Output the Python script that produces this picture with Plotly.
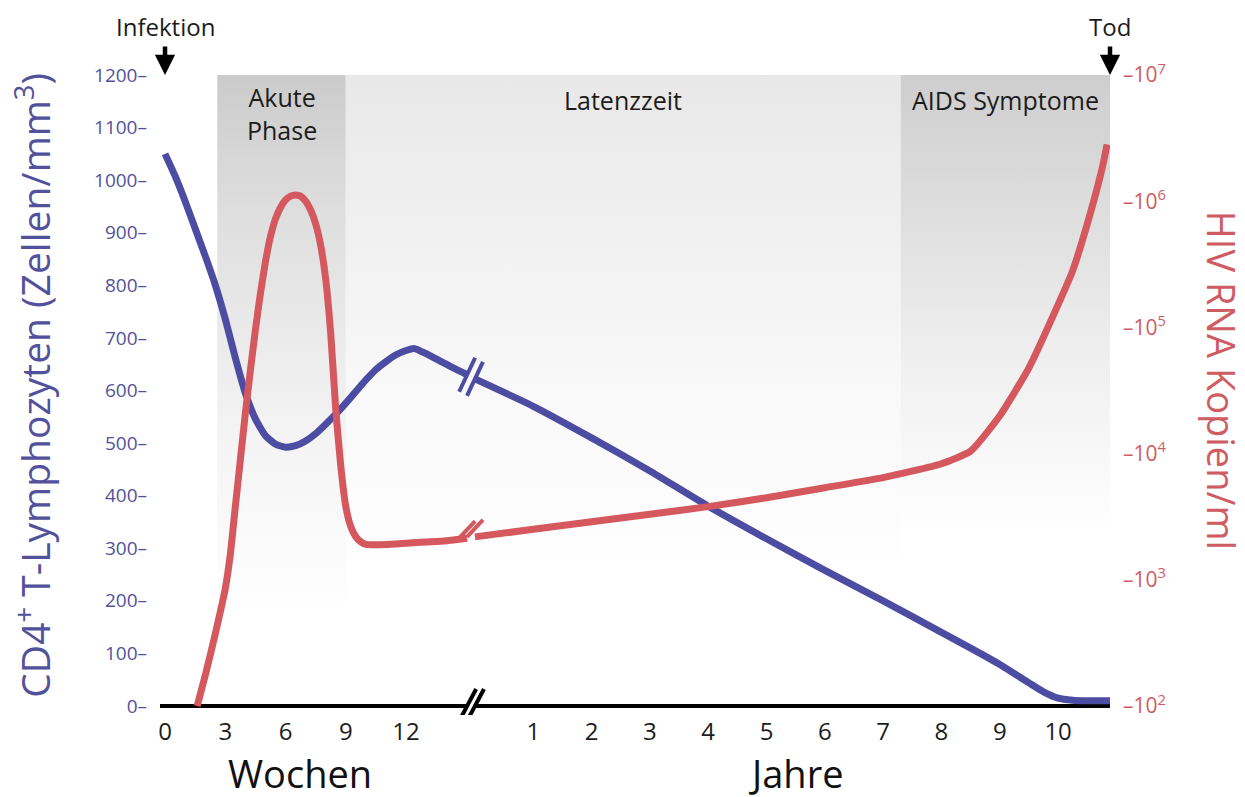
import plotly.graph_objects as go

# ---------------- data ----------------
# CD4+ T-lymphocytes (cells/mm3), weeks segment
cd4_weeks = [0, 0.5, 1, 1.5, 2, 2.5, 3, 3.5, 4, 4.5, 5, 5.5, 6, 6.5, 7, 7.5, 8, 8.5, 9,
             9.5, 10, 10.5, 11, 11.5, 12, 12.4, 13, 13.5, 14, 14.5, 15.04]
cd4_week_vals = [1050, 1008, 960, 908, 856, 801, 736, 662, 595, 546, 514, 498, 492, 495, 504,
                 518, 536, 555, 576, 598, 620, 640, 655, 668, 676, 680, 670, 660, 650, 640, 630]
# CD4+ years segment
cd4_years = [0, 1, 2, 3, 4, 5, 6, 7, 8, 8.5, 9, 9.5, 9.75, 10, 10.25, 10.5, 10.89]
cd4_year_vals = [622, 570, 510, 447, 380, 318, 258, 200, 140, 110, 79, 44, 27, 15, 11, 10, 10]

# HIV RNA copies/ml (log10), weeks segment
rna_weeks = [1.6, 2.0, 2.5, 3.0, 3.25, 3.5, 3.75, 4.0, 4.25, 4.5, 4.75, 5.0, 5.25, 5.5, 5.75,
             6.0, 6.25, 6.5, 6.75, 7.0, 7.25, 7.5, 7.75, 8.0, 8.25, 8.5, 8.75, 9.0, 9.25,
             9.5, 9.75, 10, 11, 12, 13, 14, 15.04]
rna_week_log = [2.00, 2.24, 2.57, 2.93, 3.20, 3.58, 3.95, 4.32, 4.66, 4.98, 5.27, 5.52, 5.72,
                5.86, 5.95, 6.01, 6.04, 6.05, 6.04, 6.00, 5.93, 5.82, 5.65, 5.38, 4.95, 4.35,
                3.90, 3.58, 3.42, 3.34, 3.30, 3.28, 3.28, 3.29, 3.30, 3.31, 3.33]
# HIV RNA years segment
rna_years = [0, 1, 2, 3, 4, 5, 6, 7, 8, 8.5, 9, 9.5, 10, 10.25, 10.5, 10.75, 10.84]
rna_year_log = [3.34, 3.40, 3.46, 3.52, 3.58, 3.65, 3.73, 3.81, 3.92, 4.02, 4.30, 4.68, 5.18,
                5.45, 5.82, 6.25, 6.45]

week_ticks = [0, 3, 6, 9, 12]
year_ticks = [1, 2, 3, 4, 5, 6, 7, 8, 9, 10]
cd4_ticks = list(range(0, 1300, 100))
rna_tick_exp = [2, 3, 4, 5, 6, 7]

# phases: (label, start, start-unit, end, end-unit)
phases = [("Akute<br>Phase", 2.6, "w", 9.0, "w"),
          ("Latenzzeit", 9.0, "w", 7.3, "y"),
          ("AIDS Symptome", 7.3, "y", 10.89, "y")]

# ---------------- axis mapping (broken axis: weeks | years) ----------------
YEAR0 = 15.43
YSCALE = 2.903


def ypos(vals):
    return [YEAR0 + v * YSCALE for v in vals]


def pos(v, unit):
    return v if unit == "w" else YEAR0 + v * YSCALE


BREAK_L = cd4_weeks[-1]
BREAK_R = YEAR0
X_END = pos(10.89, "y")

BLUE = "#4c4ca3"
RED = "#d4585e"
BLUE_TXT = "#52529c"
RED_TXT = "#cf5c62"
TXT = "#1c1c1c"
FONT = "Open Sans"

fig = go.Figure()

# ---------------- shaded phases ----------------
shade_specs = [
    (170, [[0, "#ffffff"], [0.35, "#f3f3f3"], [0.75, "#dedede"], [1, "#cbcbcb"]]),
    (240, [[0, "#ffffff"], [0.4, "#f8f8f8"], [1, "#e8e8e8"]]),
    (330, [[0, "#ffffff"], [0.4, "#eeeeee"], [1, "#cecece"]]),
]
for (label, s, su, e, eu), (ybot, cs) in zip(phases, shade_specs):
    x0, x1 = pos(s, su), pos(e, eu)
    fig.add_trace(go.Scatter(
        x=[x0, x1, x1, x0, x0], y=[ybot, ybot, 1200, 1200, ybot],
        fill="toself", mode="lines", line=dict(width=0),
        fillgradient=dict(type="vertical", colorscale=cs),
        hoverinfo="skip", showlegend=False))

# ---------------- curves ----------------
line_blue = dict(color=BLUE, width=7, shape="spline", smoothing=0.5)
line_red = dict(color=RED, width=7, shape="spline", smoothing=0.5)

fig.add_trace(go.Scatter(x=cd4_weeks, y=cd4_week_vals, mode="lines", line=line_blue,
                         showlegend=False, hoverinfo="skip"))
fig.add_trace(go.Scatter(x=ypos(cd4_years), y=cd4_year_vals, mode="lines", line=line_blue,
                         showlegend=False, hoverinfo="skip"))
fig.add_trace(go.Scatter(x=rna_weeks, y=[10 ** v for v in rna_week_log], mode="lines",
                         line=line_red, yaxis="y2", showlegend=False, hoverinfo="skip"))
fig.add_trace(go.Scatter(x=ypos(rna_years), y=[10 ** v for v in rna_year_log], mode="lines",
                         line=line_red, yaxis="y2", showlegend=False, hoverinfo="skip"))

# ---------------- x axis baseline with break ----------------
shapes = []
shapes.append(dict(type="line", xref="x", yref="y", x0=-0.25, x1=BREAK_L, y0=0, y1=0,
                   line=dict(color="black", width=4), layer="below"))
shapes.append(dict(type="line", xref="x", yref="y", x0=BREAK_R, x1=X_END, y0=0, y1=0,
                   line=dict(color="black", width=4), layer="below"))


def brk(xa, ya, yref, color, dx, dy, width=4):
    return dict(type="line", xref="x", yref=yref, xsizemode="pixel", ysizemode="pixel",
                xanchor=xa, yanchor=ya, x0=-dx, x1=dx, y0=-dy, y1=dy,
                line=dict(color=color, width=width))


shapes.append(brk(BREAK_L, 0, "y", "black", 9, 17))
shapes.append(brk(BREAK_R, 0, "y", "black", 9, 17))
shapes.append(brk(BREAK_L, cd4_week_vals[-1], "y", BLUE, 8, 17, 4))
shapes.append(brk(BREAK_R, cd4_year_vals[0], "y", BLUE, 8, 17, 4))
shapes.append(brk(BREAK_L, 10 ** rna_week_log[-1], "y2", RED, 8, 17, 4))
shapes.append(brk(BREAK_R, 10 ** rna_year_log[0], "y2", RED, 8, 17, 4))

# ---------------- annotations ----------------
ann = []
for (label, s, su, e, eu) in phases:
    xc = (pos(s, su) + pos(e, eu)) / 2
    if label.startswith("AIDS"):
        xc = pos(e, eu) - 5.2
    yv = 1126 if "<br>" in label else 1152
    ann.append(dict(x=xc, y=yv, xref="x", yref="y", text=label, showarrow=False,
                    yanchor="middle", xanchor="center",
                    font=dict(family=FONT, size=25, color=TXT)))

for xv, txt in [(0, "Infektion"), (X_END, "Tod")]:
    ann.append(dict(x=xv, y=1200, xref="x", yref="y", ax=0, ay=-30, text="",
                    showarrow=True, arrowhead=2, arrowsize=0.9, arrowwidth=4.5,
                    arrowcolor="black", standoff=0))
    ann.append(dict(x=xv, y=1.0, xref="x", yref="paper", yshift=42, text=txt,
                    showarrow=False, yanchor="middle", xanchor="center",
                    font=dict(family=FONT, size=24, color=TXT)))

ann.append(dict(x=6.7, y=-0.089, xref="x", yref="paper", text="Wochen", showarrow=False,
                yanchor="middle", xanchor="center",
                font=dict(family=FONT, size=38, color="#111111")))
ann.append(dict(x=pos(5.5, "y"), y=-0.089, xref="x", yref="paper", text="Jahre",
                showarrow=False, yanchor="middle", xanchor="center",
                font=dict(family=FONT, size=38, color="#111111")))

ann.append(dict(x=-0.134, y=0.51, xref="paper", yref="paper", textangle=-90,
                xanchor="center", yanchor="middle",
                text="CD4<sup>+</sup> T-Lymphozyten (Zellen/mm<sup>3</sup>)", showarrow=False,
                font=dict(family=FONT, size=39, color=BLUE_TXT)))
ann.append(dict(x=1.118, y=0.518, xref="paper", yref="paper", textangle=90,
                xanchor="center", yanchor="middle",
                text="HIV RNA Kopien/ml", showarrow=False,
                font=dict(family=FONT, size=38, color=RED_TXT)))

# ---------------- layout ----------------
x_tickvals = week_ticks + ypos(year_ticks)
x_ticktext = [str(v) for v in week_ticks] + [str(v) for v in year_ticks]

fig.update_layout(
    width=1245, height=797,
    margin=dict(l=152, r=143, t=60, b=90),
    paper_bgcolor="white", plot_bgcolor="white",
    showlegend=False,
    shapes=shapes, annotations=ann,
    font=dict(family=FONT),
    xaxis=dict(range=[-0.25, X_END], showgrid=False, zeroline=False, showline=False,
               tickvals=x_tickvals, ticktext=x_ticktext, ticks="",
               tickfont=dict(family=FONT, size=24, color=TXT), ticklabelstandoff=0),
    yaxis=dict(range=[-17.1, 1213.3], showgrid=False, zeroline=False, showline=False,
               tickvals=cd4_ticks, ticktext=[f"{v}\u2013" for v in cd4_ticks], ticks="",
               tickfont=dict(family=FONT, size=19, color=BLUE_TXT), ticklabelstandoff=12),
    yaxis2=dict(type="log", range=[1.9287, 7.0555], overlaying="y", side="right",
                showgrid=False, zeroline=False, showline=False,
                tickvals=[10 ** e for e in rna_tick_exp],
                ticktext=[f"\u201310<sup>{e}</sup>" for e in rna_tick_exp], ticks="",
                tickfont=dict(family=FONT, size=21, color=RED_TXT), ticklabelstandoff=12),
)

fig.write_html("out.html")
